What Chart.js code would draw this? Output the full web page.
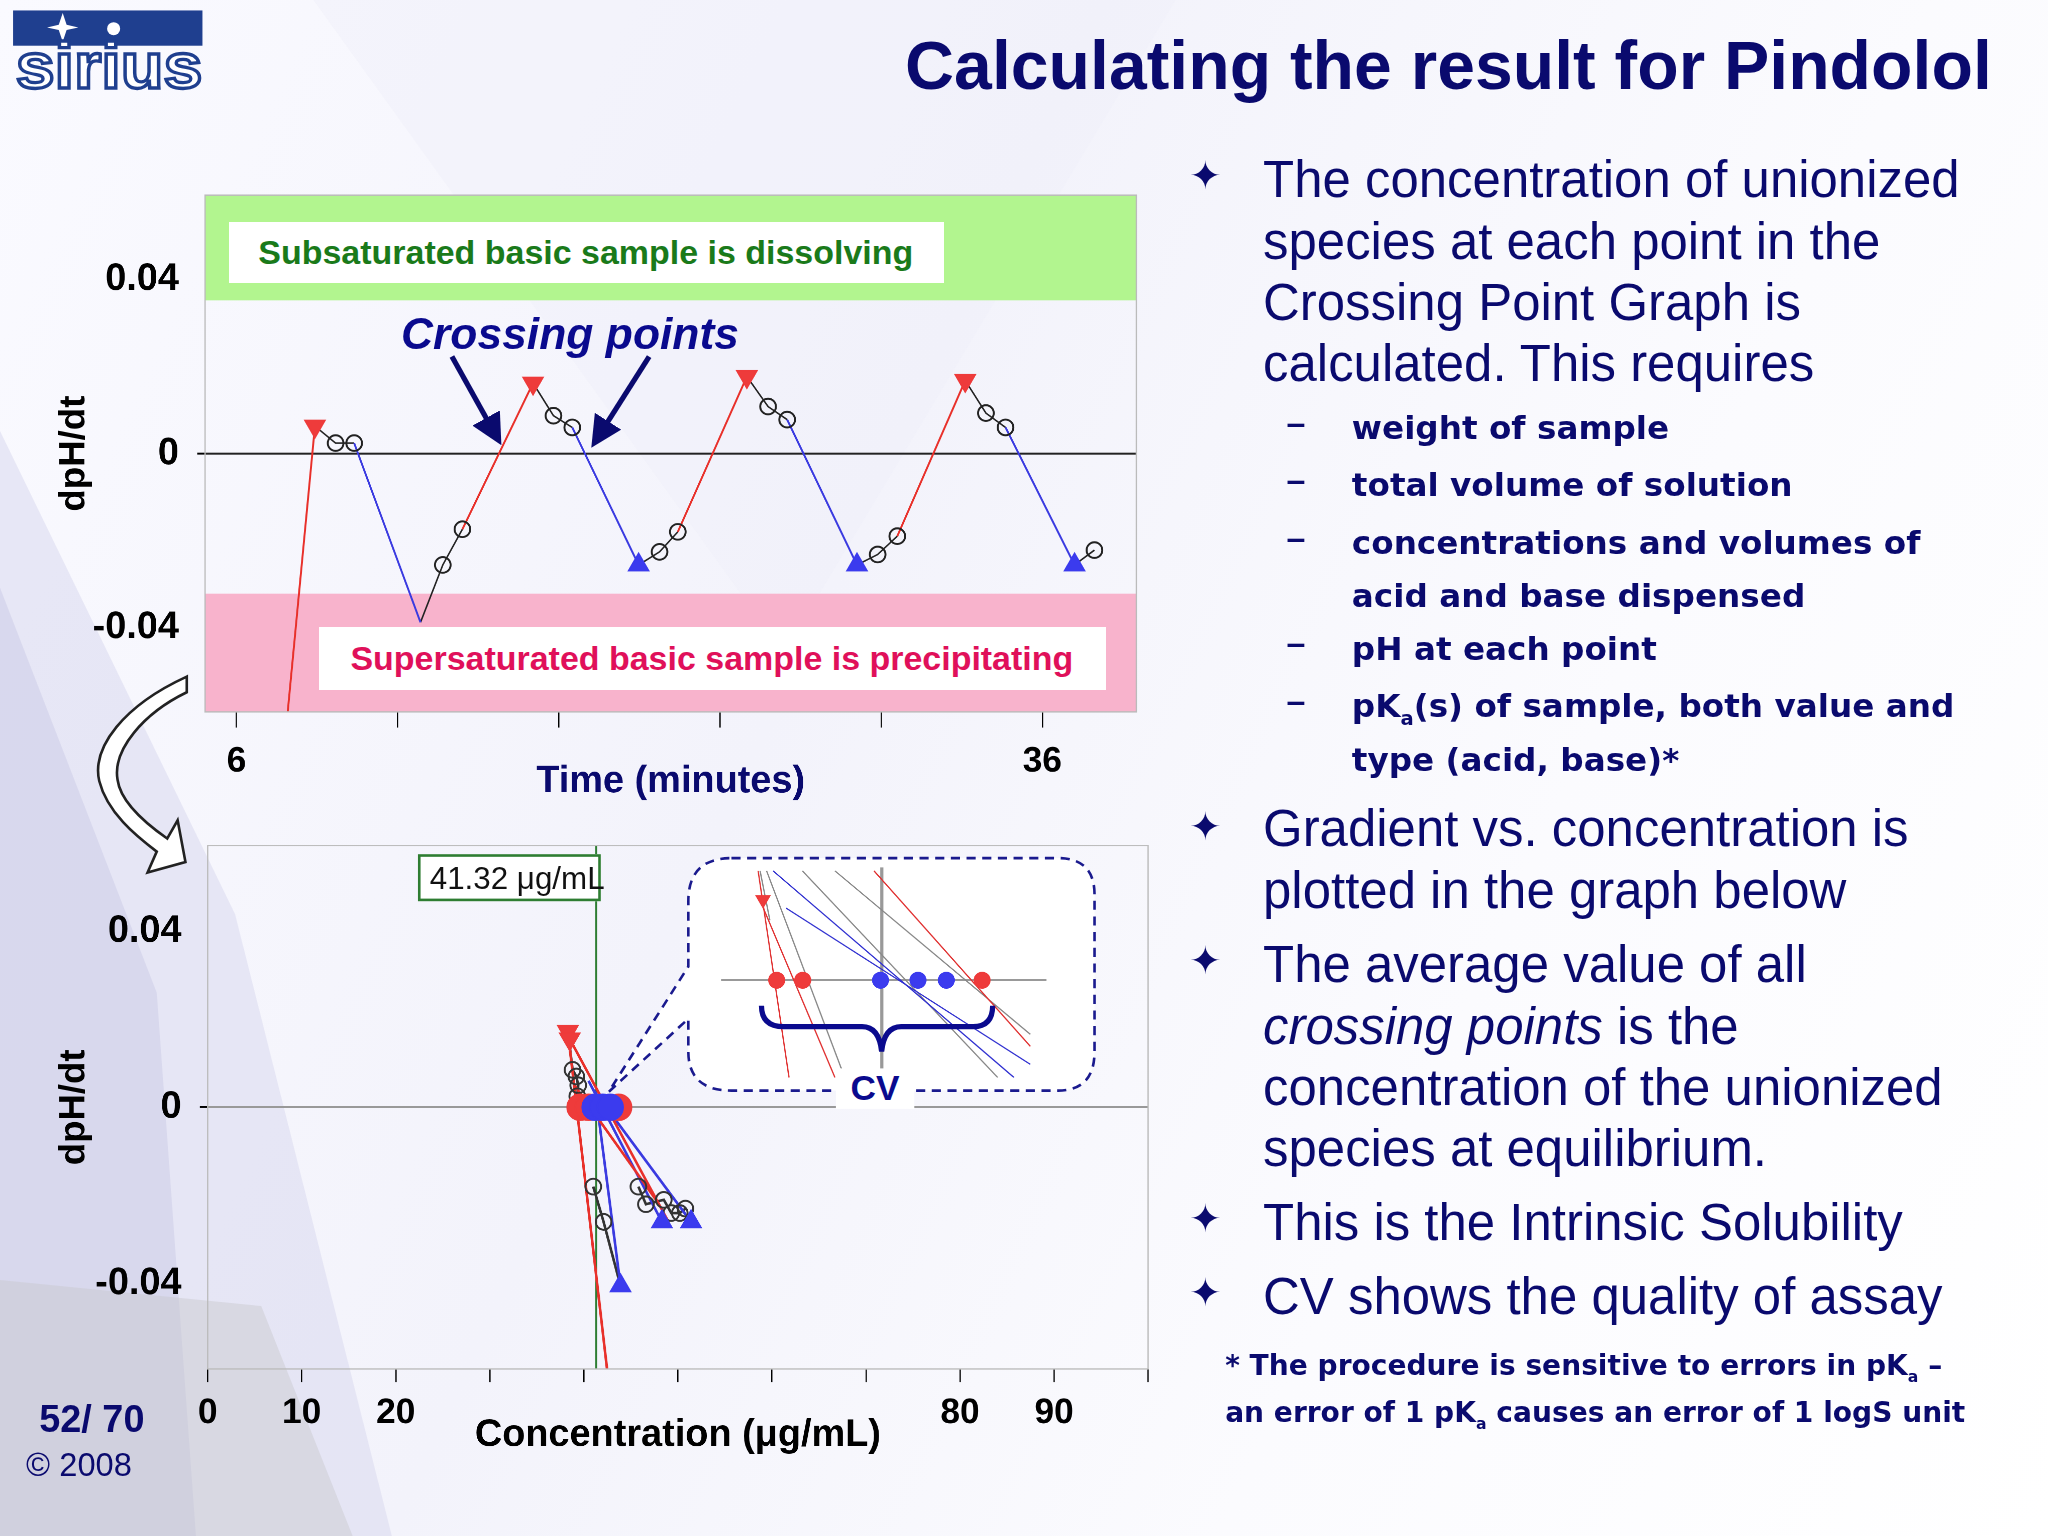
<!DOCTYPE html>
<html><head><meta charset="utf-8">
<script src="https://cdn.jsdelivr.net/npm/chart.js@4"></script>
<style>
html,body{margin:0;padding:0;width:2048px;height:1536px;overflow:hidden;background:#fff;}
#stage{position:absolute;left:0;top:0;width:1568px;height:1176px;transform:scale(1.306122);transform-origin:0 0;
 background:linear-gradient(115deg,#fafaff 0%,#f3f3fb 40%,#fbfbfe 70%,#fff 100%);font-family:"Liberation Sans",Arial,sans-serif;overflow:hidden;}
.abs{position:absolute;}
.navy{color:#0a0a6e;}
canvas{position:absolute;}
.bul{position:absolute;left:910px;font-size:30px;color:#0a0a6e;}
.bt{position:absolute;left:967px;font-size:39px;line-height:47px;color:#0a0a6e;white-space:nowrap;}
.dash{position:absolute;left:985px;font-size:26px;color:#0a0a6e;font-weight:bold;}
.sub{position:absolute;left:1035px;font-family:"DejaVu Sans",sans-serif;font-size:25px;line-height:41px;color:#0a0a6e;font-weight:bold;white-space:nowrap;}
sub{line-height:0;}
</style></head><body>
<div id="stage">
<svg class="abs" style="left:0;top:0" width="1568" height="1176">
 <polygon points="0,330 180,700 300,1176 0,1176" fill="#d9d9ef" opacity="0.55"/>
 <polygon points="0,450 120,760 150,1176 0,1176" fill="#c9c9e6" opacity="0.5"/>
 <polygon points="0,980 200,1000 270,1176 0,1176" fill="#c8c8cc" opacity="0.45"/>
 <polygon points="240,0 900,0 600,500" fill="#f0f0fa" opacity="0.5"/>
 <rect x="10" y="8" width="145" height="27" fill="#1f3f8f"/>
 <path d="M48,10 L51,19 L60,21 L51,23 L48,32 L45,23 L36,21 L45,19 Z" fill="#fff"/>
 <circle cx="87" cy="22" r="5" fill="#fff"/>
 <text x="12" y="67" textLength="143" lengthAdjust="spacingAndGlyphs" font-family="Liberation Sans, Arial" font-weight="bold" font-size="50" fill="#fff" stroke="#1f3f8f" stroke-width="2.5">sirius</text>
 <path d="M143,518 C95,540 70,572 76,598 C82,622 104,640 120,652 L113,668 L142,660 L136,628 L128,642 C108,628 92,612 90,597 C86,574 110,546 143,530 Z" fill="#fff" stroke="#222" stroke-width="2"/>
 <defs><marker id="ah" markerWidth="6" markerHeight="6" refX="4" refY="3" orient="auto"><path d="M0,0 L6,3 L0,6 Z" fill="#0a0a6e"/></marker></defs>
 <line x1="346" y1="273" x2="380" y2="334" stroke="#0a0a6e" stroke-width="4" marker-end="url(#ah)"/>
 <line x1="497" y1="273" x2="457" y2="336" stroke="#0a0a6e" stroke-width="4" marker-end="url(#ah)"/>
</svg>

<div class="abs" style="right:43px;top:20px;font-size:52px;font-weight:bold;color:#0a0a6e;">Calculating the result for Pindolol</div>

<canvas id="top" width="840" height="502" style="left:40px;top:118px;width:840px;height:502px"></canvas>
<canvas id="bot" width="850" height="504" style="left:40px;top:616px;width:850px;height:504px"></canvas>

<div class="abs" style="left:175px;top:170px;width:547px;height:46px;background:#fff;color:#1a7a1a;font-weight:bold;font-size:26px;line-height:46px;text-align:center;">Subsaturated basic sample is dissolving</div>
<div class="abs" style="left:244px;top:480px;width:602px;height:48px;background:#fff;color:#e0105a;font-weight:bold;font-size:26px;line-height:48px;text-align:center;">Supersaturated basic sample is precipitating</div>
<div class="abs" style="left:307px;top:236px;font-size:34px;font-weight:bold;font-style:italic;color:#0a0a8e;">Crossing points</div>
<div class="abs" style="left:320px;top:654px;width:140px;height:36px;background:#fff;border:2px solid #2e7d32;font-size:24px;line-height:34px;color:#111;padding-left:7px;box-sizing:border-box;white-space:nowrap;">41.32 μg/mL</div>

<svg class="abs" style="left:0;top:0" width="1568" height="1176">
 <path d="M560,657 L810,657 Q838,657 838,685 L838,805 Q838,835 810,835 L560,835 Q527,835 527,805 L527,780 L466,836 L527,740 L527,690 Q527,657 560,657 Z" fill="#fff" stroke="#1a1a8e" stroke-width="2" stroke-dasharray="7,5"/>
</svg>
<canvas id="ins" width="263" height="175" style="left:545px;top:657px;width:263px;height:175px"></canvas>
<svg class="abs" style="left:0;top:0" width="1568" height="1176">
 <path d="M583,770 Q583,786 600,786 L660,786 Q673,786 675,805 Q677,786 690,786 L745,786 Q760,786 760,770" fill="none" stroke="#0a0a8e" stroke-width="4"/>
</svg>
<div class="abs" style="left:640px;top:818px;width:60px;text-align:center;background:#fff;font-size:27px;font-weight:bold;color:#0a0a8e;">CV</div>

<div class="bul" style="top:117px">✦</div>
<div class="bt" style="top:114px">The concentration of unionized<br>species at each point in the<br>Crossing Point Graph is<br>calculated. This requires</div>
<div class="dash" style="top:308px">–</div><div class="sub" style="top:307px">weight of sample</div>
<div class="dash" style="top:352px">–</div><div class="sub" style="top:351px">total volume of solution</div>
<div class="dash" style="top:396px">–</div><div class="sub" style="top:395px">concentrations and volumes of<br>acid and base dispensed</div>
<div class="dash" style="top:477px">–</div><div class="sub" style="top:476px">pH at each point</div>
<div class="dash" style="top:521px">–</div><div class="sub" style="top:520px">pK<sub style="font-size:15px">a</sub>(s) of sample, both value and<br>type (acid, base)*</div>
<div class="bul" style="top:615px">✦</div>
<div class="bt" style="top:611px">Gradient vs. concentration is<br>plotted in the graph below</div>
<div class="bul" style="top:718px">✦</div>
<div class="bt" style="top:715px">The average value of all<br><i>crossing points</i> is the<br>concentration of the unionized<br>species at equilibrium.</div>
<div class="bul" style="top:915px">✦</div>
<div class="bt" style="top:912px">This is the Intrinsic Solubility</div>
<div class="bul" style="top:972px">✦</div>
<div class="bt" style="top:969px">CV shows the quality of assay</div>
<div class="abs navy" style="left:938px;top:1028px;font-family:'DejaVu Sans',sans-serif;font-size:21.5px;font-weight:bold;line-height:36px;white-space:nowrap;">* The procedure is sensitive to errors in pK<sub style="font-size:12px">a</sub> –<br>an error of 1 pK<sub style="font-size:12px">a</sub> causes an error of 1 logS unit</div>
<div class="abs navy" style="left:30px;top:1070px;font-size:29px;font-weight:bold;">52/ 70</div>
<div class="abs navy" style="left:20px;top:1107px;font-size:25px;">© 2008</div>
</div>
<script>
// ---------- Top chart data (time, dpH/dt) ----------
const redTime = [7.9, 8.92, null, 14.41, 17.04, null, 22.43, 25.0, null, 30.6, 33.13];
const redVal  = [-0.0598, 0.0063, null, -0.0174, 0.0162, null, -0.018, 0.0177, null, -0.019, 0.0168];
const blueTime = [10.38, 12.85, null, 18.5, 20.97, null, 26.5, 29.1, null, 34.63, 37.2];
const blueVal  = [0.0024, -0.0388, null, 0.006, -0.0256, null, 0.0078, -0.0256, null, 0.006, -0.0256];
const blackTime = [8.92,9.69,10.38,null,12.85,13.68,14.41,null,17.04,17.8,18.5,null,20.97,21.75,22.43,null,25.0,25.79,26.5,null,29.1,29.87,30.6,null,33.13,33.9,34.63,null,37.2,37.94];
const blackVal  = [0.0063,0.0024,0.0024,null,-0.0388,-0.0256,-0.0174,null,0.0162,0.0087,0.006,null,-0.0256,-0.0226,-0.018,null,0.0177,0.0108,0.0078,null,-0.0256,-0.0232,-0.019,null,0.0168,0.0093,0.006,null,-0.0256,-0.0222];
const circTime = [9.69,10.38,13.68,14.41,17.8,18.5,21.75,22.43,25.79,26.5,29.87,30.6,33.9,34.63,37.94];
const circVal  = [0.0024,0.0024,-0.0256,-0.0174,0.0087,0.006,-0.0226,-0.018,0.0108,0.0078,-0.0232,-0.019,0.0093,0.006,-0.0222];
const peakTime = [8.92, 17.04, 25.0, 33.13];
const peakVal  = [0.0063, 0.0162, 0.0177, 0.0168];
const troughTime = [20.97, 29.1, 37.2];
const troughVal  = [-0.0256, -0.0256, -0.0256];
const topTickLabels = {6:'6', 36:'36'};
const yTickValues = [0.04, 0, -0.04];

// ---------- Bottom chart data (concentration, dpH/dt) ----------
const bRedConc = [38.3, 42.5, null, 38.5, 49.0, null, 39.0, 48.0];
const bRedVal  = [0.0172, -0.06, null, 0.0155, -0.026, null, 0.005, -0.022];
const bBlueConc = [40.5, 48.3, null, 41.0, 51.4, null, 41.5, 43.9];
const bBlueVal  = [0.006, -0.026, null, 0.004, -0.026, null, -0.001, -0.0405];
const bBlackConc = [38.3,38.8,39.2,39.4,39.3,null,41.0,42.1,43.9,null,45.8,46.6,48.5,49.3,50.2,50.8];
const bBlackVal  = [0.0172,0.0085,0.007,0.005,0.0025,null,-0.018,-0.026,-0.0405,null,-0.018,-0.022,-0.021,-0.024,-0.024,-0.023];
const bCircConc = [38.8,39.2,39.4,39.3,41.0,42.1,45.8,46.6,48.5,49.3,50.2,50.8];
const bCircVal  = [0.0085,0.007,0.005,0.0025,-0.018,-0.026,-0.018,-0.022,-0.021,-0.024,-0.024,-0.023];
const crossRed  = [39.6, 40.5, 43.7];
const crossBlue = [41.2, 42.0, 42.8];
const bDownConc = [38.3, 38.5]; const bDownVal = [0.0172, 0.0155];
const bUpConc = [48.3, 51.4, 43.9]; const bUpVal = [-0.026, -0.026, -0.0405];
const solubility = 41.32;
const botTickLabels = {0:'0',10:'10',20:'20',80:'80',90:'90'};

// ---------- Inset data ----------
const insCrossRed = [17.1, 25.1, 80.2];
const insCrossBlue = [49.0, 60.5, 69.2];
const insLines = [
 {c:'#e03030', x:[11.4,20.9], y:[91,-81]},
 {c:'#e03030', x:[13,35], y:[60,-81]},
 {c:'#e03030', x:[47,95], y:[91,-55]},
 {c:'#3030d0', x:[20,95], y:[60,-70]},
 {c:'#3030d0', x:[16,90], y:[91,-81]},
 {c:'#888', x:[14,38], y:[91,-81]},
 {c:'#888', x:[25,85], y:[91,-81]},
 {c:'#888', x:[35,95], y:[91,-45]},
 {c:'#888', x:[12,15], y:[91,50]},
];
const insTri = [12.9, 67];

const pts = (xs, ys) => xs.map((x,i) => ({x: x===null ? NaN : x, y: ys[i]}));
const DPR = 2.6;
const frame = {id:'frame', afterDatasetsDraw(c){const a=c.chartArea,ctx=c.ctx;ctx.save();ctx.strokeStyle='#bbb';ctx.lineWidth=1;ctx.strokeRect(a.left,a.top,a.right-a.left,a.bottom-a.top);ctx.restore();}};
const bands = {id:'bands', beforeDatasetsDraw(c){const a=c.chartArea,ctx=c.ctx,y=c.scales.y;ctx.save();
 ctx.fillStyle='#b2f58f';ctx.fillRect(a.left,a.top,a.right-a.left,y.getPixelForValue(0.0352)-a.top);
 const p=y.getPixelForValue(-0.0322);ctx.fillStyle='#f8b3cc';ctx.fillRect(a.left,p,a.right-a.left,a.bottom-p);ctx.restore();}};
const solLine = {id:'sol', beforeDatasetsDraw(c){const a=c.chartArea,ctx=c.ctx,x=c.scales.x.getPixelForValue(solubility);ctx.save();ctx.strokeStyle='#2e7d32';ctx.lineWidth=1.5;ctx.beginPath();ctx.moveTo(x,a.top);ctx.lineTo(x,a.bottom);ctx.stroke();ctx.restore();}};

function yScale(width, zeroColor){
 return {min:-0.0594,max:0.0594,afterFit(s){s.width=width;},
  afterBuildTicks(s){s.ticks=yTickValues.map(v=>({value:v}));},
  ticks:{color:'#000',font:{size:29,weight:'bold',family:'Liberation Sans'},padding:14,callback:v=>v===0?'0':v.toFixed(2)},
  grid:{drawOnChartArea:true,tickLength:6,tickColor:'#000',color:ctx=>ctx.tick&&ctx.tick.value===0?zeroColor:'rgba(0,0,0,0)',lineWidth:ctx=>ctx.tick&&ctx.tick.value===0?1.5:0},
  border:{display:false},
  title:{display:true,text:'dpH/dt',color:'#000',font:{size:28,weight:'bold',family:'Liberation Sans'},padding:0}};
}
const lineDs=(data,color,w)=>({data,showLine:true,borderColor:color,borderWidth:w||1.5,pointRadius:0,spanGaps:false,order:3});

new Chart(document.getElementById('top'),{type:'scatter',
 data:{datasets:[
  lineDs(pts(redTime,redVal),'#e8302a'),
  lineDs(pts(blueTime,blueVal),'#3a3ae0'),
  lineDs(pts(blackTime,blackVal),'#222',1.2),
  {data:pts(circTime,circVal),pointStyle:'circle',pointRadius:6,borderColor:'#222',backgroundColor:'rgba(0,0,0,0)',borderWidth:1.5,order:2},
  {data:pts(peakTime,peakVal),pointStyle:'triangle',rotation:180,pointRadius:9,backgroundColor:'#ee3b3b',borderColor:'#ee3b3b',order:1},
  {data:pts(troughTime,troughVal),pointStyle:'triangle',pointRadius:9,backgroundColor:'#3b3bee',borderColor:'#3b3bee',order:1}
 ]},
 options:{responsive:false,animation:false,devicePixelRatio:DPR,plugins:{legend:{display:false},tooltip:{enabled:false}},
  layout:{padding:{top:0,right:10}},
  scales:{
   x:{min:4.83,max:39.5,afterFit(s){s.height=75;},
    afterBuildTicks(s){s.ticks=[6,12,18,24,30,36].map(v=>({value:v}));},
    ticks:{color:'#000',font:{size:27,weight:'bold',family:'Liberation Sans'},padding:10,callback:v=>topTickLabels[v]||''},
    grid:{drawOnChartArea:false,tickLength:12,tickColor:'#000',offset:false},border:{display:false},
    title:{display:true,text:'Time (minutes)',color:'#0a0a6e',font:{size:29,weight:'bold',family:'Liberation Sans'},padding:{top:-34}}},
   y:yScale(117,'#222')}},
 plugins:[bands,frame]});

new Chart(document.getElementById('bot'),{type:'scatter',
 data:{datasets:[
  lineDs(pts(bRedConc,bRedVal),'#e8302a',2),
  lineDs(pts(bBlueConc,bBlueVal),'#3a3ae0',2),
  lineDs(pts(bBlackConc,bBlackVal),'#333',2),
  {data:pts(bCircConc,bCircVal),pointStyle:'circle',pointRadius:6,borderColor:'#333',backgroundColor:'rgba(0,0,0,0)',borderWidth:1.5,order:2},
  {data:pts(crossRed,[0,0,0]),pointStyle:'circle',pointRadius:10,backgroundColor:'#ee3b3b',borderColor:'#ee3b3b',order:1},
  {data:pts(crossBlue,[0,0,0]),pointStyle:'circle',pointRadius:10,backgroundColor:'#3b3bee',borderColor:'#3b3bee',order:0},
  {data:pts(bDownConc,bDownVal),pointStyle:'triangle',rotation:180,pointRadius:9,backgroundColor:'#ee3b3b',borderColor:'#ee3b3b',order:1},
  {data:pts(bUpConc,bUpVal),pointStyle:'triangle',pointRadius:9,backgroundColor:'#3b3bee',borderColor:'#3b3bee',order:1}
 ]},
 options:{responsive:false,animation:false,devicePixelRatio:DPR,plugins:{legend:{display:false},tooltip:{enabled:false}},
  layout:{padding:{top:0,right:7}},
  scales:{
   x:{min:0,max:100,afterFit(s){s.height=72;},
    afterBuildTicks(s){s.ticks=[0,10,20,30,40,50,60,70,80,90,100].map(v=>({value:v}));},
    ticks:{color:'#000',font:{size:27,weight:'bold',family:'Liberation Sans'},padding:8,callback:v=>botTickLabels[v]||''},
    grid:{drawOnChartArea:false,tickLength:10,tickColor:'#000'},border:{display:false},
    title:{display:true,text:'Concentration (μg/mL)',color:'#000',font:{size:29,weight:'bold',family:'Liberation Sans'},padding:{top:-38}}},
   y:yScale(119,'#999')}},
 plugins:[solLine,frame]});

new Chart(document.getElementById('ins'),{type:'scatter',
 data:{datasets:[
  ...insLines.map(l=>lineDs(pts(l.x,l.y),l.c,1)),
  lineDs(pts([0,100],[0,0]),'#999',1.5),
  lineDs(pts([49.4,49.4],[94,-81]),'#999',2.5),
  {data:pts(insCrossRed,[0,0,0]),pointStyle:'circle',pointRadius:6,backgroundColor:'#ee3b3b',borderColor:'#ee3b3b',order:0},
  {data:pts(insCrossBlue,[0,0,0]),pointStyle:'circle',pointRadius:6,backgroundColor:'#3b3bee',borderColor:'#3b3bee',order:0},
  {data:[{x:insTri[0],y:insTri[1]}],pointStyle:'triangle',rotation:180,pointRadius:6,backgroundColor:'#ee3b3b',borderColor:'#ee3b3b',order:0}
 ]},
 options:{responsive:false,animation:false,devicePixelRatio:DPR,plugins:{legend:{display:false},tooltip:{enabled:false}},
  scales:{x:{display:false,min:0,max:100},y:{display:false,min:-81,max:94}}}});
</script>
</body></html>
